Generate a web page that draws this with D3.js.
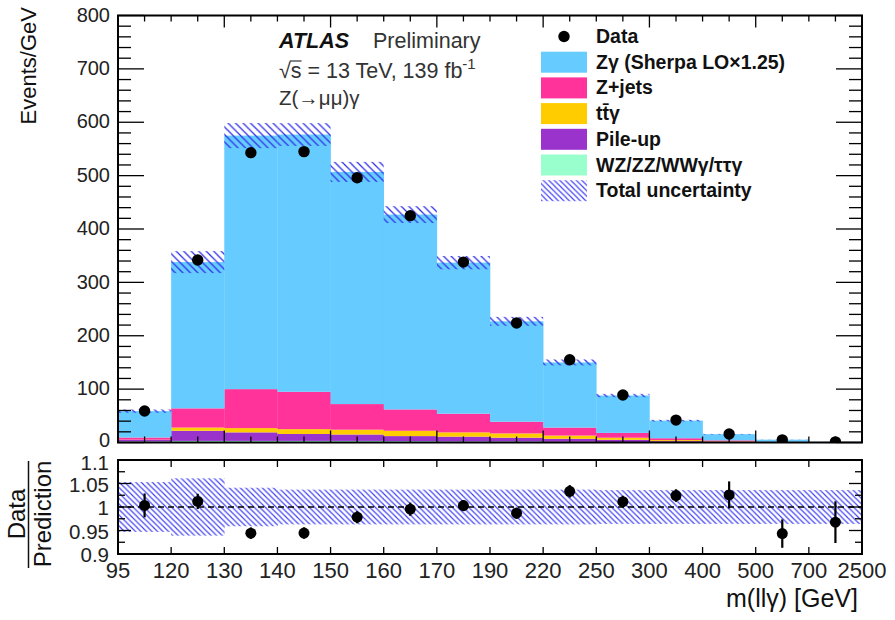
<!DOCTYPE html>
<html>
<head>
<meta charset="utf-8">
<script src="https://cdn.jsdelivr.net/npm/d3@7"></script>
<style>
  body { margin: 0; background: #fff; }
  svg { display: block; }
  text { font-family: "Liberation Sans", Arial, Helvetica, sans-serif; fill: #111; }
</style>
</head>
<body>
<svg id="chart" width="895" height="620"></svg>
<script>
// m(llγ) bin edges [GeV]; every bin is drawn with the same width
const binEdges = [95, 120, 130, 140, 150, 160, 170, 190, 220, 250, 300, 400, 500, 700, 2500];

// Observed data, Events/GeV, and its statistical error
const dataValues = [59, 342, 543, 545, 496, 425, 338, 224, 155, 89, 42, 16, 5.0, 1.2];
const dataErrors = [1.5, 5.5, 7, 7, 6.5, 6, 4, 2.7, 2, 1.1, 0.55, 0.45, 0.16, 0.055];

// Predicted contributions, Events/GeV (stacked bottom to top)
const otherVV    = [2, 3, 3, 3, 3, 2.5, 2, 2, 1.5, 1, 0.6, 0.3, 0.1, 0.03];      // WZ/ZZ/WWγ/ττγ
const pileUp     = [3, 19, 16, 13, 12, 9.5, 9, 7, 5.5, 4, 1.9, 0.7, 0.2, 0.05];
const ttGamma    = [0.3, 6, 8, 9, 9, 10, 8, 8, 6, 4, 2, 1, 0.4, 0.12];
const zJets      = [4, 36, 73, 70, 48, 40, 35, 22, 15, 9, 3.5, 2, 0.6, 0.15];
const zGamma     = [49.5, 274, 475, 482, 435, 365, 283, 188, 122, 70, 33, 11.6, 4.0, 0.89];

// Relative total uncertainty of the prediction per bin
const totalUncertainty = [0.053, 0.061, 0.041, 0.037, 0.037, 0.037, 0.037, 0.037, 0.037, 0.036, 0.036, 0.036, 0.036, 0.036];

const mainTicks  = [0, 100, 200, 300, 400, 500, 600, 700, 800];
const ratioTicks = [0.9, 0.95, 1, 1.05, 1.1];
const ratioTickLabels = ["0.9", "0.95", "1", "1.05", "1.1"];

const layers = [
  { key: "otherVV", values: otherVV, color: "#99ffcc", label: "WZ/ZZ/WWγ/ττγ" },
  { key: "pileUp",  values: pileUp,  color: "#9933cc", label: "Pile-up" },
  { key: "ttGamma", values: ttGamma, color: "#ffcc00", label: "tt̄γ" },
  { key: "zJets",   values: zJets,   color: "#ff3399", label: "Z+jets" },
  { key: "zGamma",  values: zGamma,  color: "#66ccff", label: "Zγ (Sherpa LO×1.25)" }
];

const nBins = binEdges.length - 1;
const rows = d3.range(nBins).map(i => {
  const r = { bin: i };
  layers.forEach(l => { r[l.key] = l.values[i]; });
  return r;
});
const stacked = d3.stack().keys(layers.map(l => l.key))(rows);
const totals = rows.map(r => d3.sum(layers, l => r[l.key]));

const svg = d3.select("#chart");

// ---------- layout ----------
const X0 = 118, X1 = 862;
const mainTop = 15.5, mainBottom = 442.5;
const ratioTop = 460, ratioBottom = 554;

const x = d3.scaleLinear().domain([0, nBins]).range([X0, X1]);
const y = d3.scaleLinear().domain([0, 800]).range([mainBottom, mainTop]);
const yr = d3.scaleLinear().domain([0.9, 1.1]).range([ratioBottom, ratioTop]);

// ---------- hatch patterns ----------
const defs = svg.append("defs");
function hatch(id, s, color, w) {
  defs.append("pattern").attr("id", id).attr("patternUnits", "userSpaceOnUse")
    .attr("width", s).attr("height", s)
    .append("path")
    .attr("d", `M${-s/4},${-s/4} L${s*1.25},${s*1.25} M${-s/4},${s*0.75} L${s/4},${s*1.25} M${s*0.75},${-s/4} L${s*1.25},${s/4}`)
    .attr("stroke", color).attr("stroke-width", w).attr("fill", "none");
}
hatch("hatchMain", 7.5, "#2f2fe8", 1.3);
hatch("hatchRatio", 5.5, "#4343f2", 1.2);

const clipMain = defs.append("clipPath").attr("id", "clipMain");
clipMain.append("rect").attr("x", X0).attr("y", mainTop).attr("width", X1 - X0).attr("height", mainBottom - mainTop);
const clipRatio = defs.append("clipPath").attr("id", "clipRatio");
clipRatio.append("rect").attr("x", X0).attr("y", ratioTop).attr("width", X1 - X0).attr("height", ratioBottom - ratioTop);

// ---------- main panel ----------
const gMain = svg.append("g").attr("clip-path", "url(#clipMain)");

gMain.selectAll("g.layer").data(stacked).join("g")
  .attr("class", "layer")
  .attr("fill", (d, i) => layers[i].color)
  .selectAll("rect").data(d => d).join("rect")
  .attr("x", (d, i) => x(i))
  .attr("width", (d, i) => x(i + 1) - x(i) + 0.3)
  .attr("y", d => y(d[1]))
  .attr("height", d => Math.max(0, y(d[0]) - y(d[1])));

gMain.selectAll("rect.unc").data(totals).join("rect")
  .attr("class", "unc")
  .attr("x", (d, i) => x(i))
  .attr("width", (d, i) => x(i + 1) - x(i))
  .attr("y", (d, i) => y(d * (1 + totalUncertainty[i])))
  .attr("height", (d, i) => y(d * (1 - totalUncertainty[i])) - y(d * (1 + totalUncertainty[i])))
  .attr("fill", "url(#hatchMain)");

gMain.selectAll("line.err").data(dataValues).join("line")
  .attr("class", "err")
  .attr("x1", (d, i) => x(i + 0.5)).attr("x2", (d, i) => x(i + 0.5))
  .attr("y1", (d, i) => y(d - dataErrors[i])).attr("y2", (d, i) => y(d + dataErrors[i]))
  .attr("stroke", "#000").attr("stroke-width", 2.2);

gMain.selectAll("circle").data(dataValues).join("circle")
  .attr("cx", (d, i) => x(i + 0.5)).attr("cy", d => y(d))
  .attr("r", 5.7).attr("fill", "#000");

// ---------- ratio panel ----------
const ratio = dataValues.map((d, i) => d / totals[i]);
const ratioErr = dataErrors.map((d, i) => d / totals[i]);

const gRatio = svg.append("g").attr("clip-path", "url(#clipRatio)");

gRatio.selectAll("rect.unc").data(totalUncertainty).join("rect")
  .attr("class", "unc")
  .attr("x", (d, i) => x(i))
  .attr("width", (d, i) => x(i + 1) - x(i) + 0.3)
  .attr("y", d => yr(1 + d))
  .attr("height", d => yr(1 - d) - yr(1 + d))
  .attr("fill", "url(#hatchRatio)");

gRatio.append("line")
  .attr("x1", X0).attr("x2", X1).attr("y1", yr(1)).attr("y2", yr(1))
  .attr("stroke", "#000").attr("stroke-width", 1.4).attr("stroke-dasharray", "6,4");

gRatio.selectAll("line.err").data(ratio).join("line")
  .attr("class", "err")
  .attr("x1", (d, i) => x(i + 0.5)).attr("x2", (d, i) => x(i + 0.5))
  .attr("y1", (d, i) => yr(d - ratioErr[i])).attr("y2", (d, i) => yr(d + ratioErr[i]))
  .attr("stroke", "#000").attr("stroke-width", 2.2);

gRatio.selectAll("circle").data(ratio).join("circle")
  .attr("cx", (d, i) => x(i + 0.5)).attr("cy", d => yr(d))
  .attr("r", 5.5).attr("fill", "#000");

// ---------- frames and ticks ----------
const gAxes = svg.append("g").attr("stroke", "#000").attr("fill", "none");
function tick(x1, y1, x2, y2, w) {
  gAxes.append("line").attr("x1", x1).attr("y1", y1).attr("x2", x2).attr("y2", y2)
    .attr("stroke-width", w || 1.3);
}

// main y ticks: major every 100, minor every 20
d3.range(0, 801, 20).forEach(v => {
  const len = v % 100 === 0 ? 26 : 13;
  tick(X0, y(v), X0 + len, y(v));
  tick(X1, y(v), X1 - len, y(v));
});
// main x ticks at bin edges and bin centres
d3.range(1, 2 * nBins).forEach(k => {
  const len = k % 4 === 0 ? 12 : 6;
  const xx = x(k / 2);
  tick(xx, mainBottom, xx, mainBottom - len);
  tick(xx, mainTop, xx, mainTop + len);
});
// ratio y ticks
d3.range(0, 9).forEach(j => {
  const v = 0.9 + j * 0.025;
  const len = j % 2 === 0 ? 13 : 7;
  tick(X0, yr(v), X0 + len, yr(v));
  tick(X1, yr(v), X1 - len, yr(v));
});
// ratio x ticks at bin edges
d3.range(1, nBins).forEach(k => {
  tick(x(k), ratioBottom, x(k), ratioBottom - 7);
  tick(x(k), ratioTop, x(k), ratioTop + 7);
});

gAxes.append("rect").attr("x", X0).attr("y", mainTop).attr("width", X1 - X0).attr("height", mainBottom - mainTop)
  .attr("stroke-width", 2);
gAxes.append("rect").attr("x", X0).attr("y", ratioTop).attr("width", X1 - X0).attr("height", ratioBottom - ratioTop)
  .attr("stroke-width", 2);

// ---------- tick labels ----------
const gLab = svg.append("g");
gLab.selectAll("text.ym").data(mainTicks).join("text")
  .attr("class", "ym")
  .attr("x", 110).attr("y", d => y(d) + (d === 0 ? 4.2 : 6.2))
  .attr("text-anchor", "end").attr("font-size", 20).style("fill", "#222")
  .text(d => d);

gLab.selectAll("text.yr").data(ratioTicks).join("text")
  .attr("class", "yr")
  .attr("x", 109).attr("y", d => yr(d) + (d === 1.1 ? 9.5 : 8))
  .attr("text-anchor", "end").attr("font-size", 20.5).style("fill", "#222")
  .text((d, i) => ratioTickLabels[i]);

gLab.selectAll("text.xl").data(binEdges).join("text")
  .attr("class", "xl")
  .attr("x", (d, i) => x(i)).attr("y", 578)
  .attr("text-anchor", "middle").attr("font-size", 22).style("fill", "#222")
  .text(d => d);

// ---------- axis titles ----------
svg.append("text")
  .attr("transform", "translate(36,7) rotate(-90)")
  .attr("text-anchor", "end").attr("font-size", 22)
  .text("Events/GeV");

svg.append("text")
  .attr("transform", "translate(858,607)")
  .attr("text-anchor", "end").attr("font-size", 25)
  .text("m(llγ) [GeV]");

svg.append("text")
  .attr("transform", "translate(25,514) rotate(-90)")
  .attr("text-anchor", "middle").attr("font-size", 24)
  .text("Data");
svg.append("line").attr("x1", 28.5).attr("x2", 28.5).attr("y1", 461).attr("y2", 568)
  .attr("stroke", "#111").attr("stroke-width", 1.5);
svg.append("text")
  .attr("transform", "translate(51,514) rotate(-90)")
  .attr("text-anchor", "middle").attr("font-size", 24)
  .text("Prediction");

// ---------- ATLAS label ----------
svg.append("text").attr("x", 279).attr("y", 48)
  .attr("font-size", 21.5).attr("font-weight", "bold").attr("font-style", "italic")
  .text("ATLAS");
svg.append("text").attr("x", 373).attr("y", 48).attr("font-size", 21.5).style("fill", "#333")
  .text("Preliminary");

const energy = svg.append("text").attr("x", 279).attr("y", 78).attr("font-size", 21.5).style("fill", "#333");
energy.append("tspan").text("√s = 13 TeV, 139 fb");
energy.append("tspan").attr("dy", -9).attr("font-size", 15).text("-1");
{
  const node = energy.node();
  const sx0 = node.getStartPositionOfChar(1).x;
  const sx1 = node.getEndPositionOfChar(1).x;
  svg.append("line").attr("x1", sx0 - 1).attr("x2", sx1).attr("y1", 78 - 17).attr("y2", 78 - 17)
    .attr("stroke", "#333").attr("stroke-width", 1.2);
}
svg.append("text").attr("x", 279).attr("y", 105).attr("font-size", 20.5).style("fill", "#333")
  .text("Z(→μμ)γ");

// ---------- legend ----------
const legendItems = [{ type: "data", label: "Data" }]
  .concat(layers.slice().reverse().map(l => ({ type: "fill", color: l.color, label: l.label })))
  .concat([{ type: "hatch", label: "Total uncertainty" }]);
const leg = svg.append("g");
legendItems.forEach((it, i) => {
  const base = 43 + i * 25.7;
  const cy = base - 6.5;
  if (it.type === "data") {
    leg.append("circle").attr("cx", 564).attr("cy", cy).attr("r", 5.7).attr("fill", "#000");
  } else {
    leg.append("rect").attr("x", 541).attr("y", cy - 10.5).attr("width", 46).attr("height", 21)
      .attr("fill", it.type === "hatch" ? "url(#hatchRatio)" : it.color);
  }
  leg.append("text").attr("x", 596).attr("y", base)
    .attr("font-size", 19.5).attr("font-weight", "bold")
    .text(it.label);
});
</script>
</body>
</html>
